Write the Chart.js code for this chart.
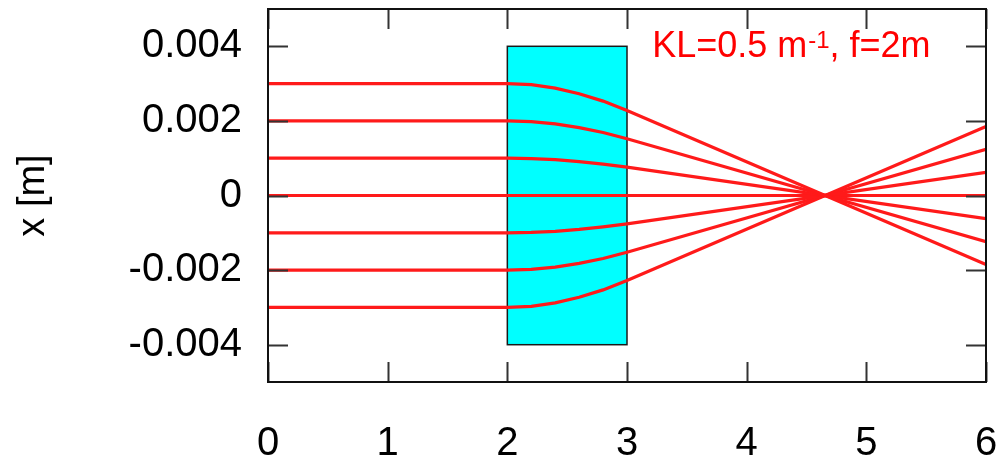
<!DOCTYPE html>
<html>
<head>
<meta charset="utf-8">
<title>Quadrupole focusing</title>
<script src="https://cdn.jsdelivr.net/npm/chart.js@4.4.1/dist/chart.umd.min.js"></script>
<style>
  html, body { margin: 0; padding: 0; background: #ffffff; }
  #wrap { width: 996px; height: 462px; }
</style>
</head>
<body>
<div id="wrap"><canvas id="chart" width="996" height="462"></canvas></div>
<script>
// Positions along the beam line [m]
const rayS = [0, 2, 2.2, 2.4, 2.6, 2.8, 3, 6];

// Transverse offset x [m] of each ray at the positions above
const rayTop3 = [0.003, 0.003, 0.00297, 0.00288, 0.00273, 0.00253, 0.00228, -0.00185];
const rayTop2 = [0.002, 0.002, 0.00198, 0.00192, 0.00182, 0.00169, 0.00152, -0.00124];
const rayTop1 = [0.001, 0.001, 0.00099, 0.00096, 0.00091, 0.00084, 0.00076, -0.00062];
const rayAxis = [0, 0, 0, 0, 0, 0, 0, 0];
const rayBot1 = [-0.001, -0.001, -0.00099, -0.00096, -0.00091, -0.00084, -0.00076, 0.00062];
const rayBot2 = [-0.002, -0.002, -0.00198, -0.00192, -0.00182, -0.00169, -0.00152, 0.00124];
const rayBot3 = [-0.003, -0.003, -0.00297, -0.00288, -0.00273, -0.00253, -0.00228, 0.00185];

// Quadrupole extent
const quadS = [2, 3];
const quadX = [-0.004, 0.004];

// Axis ticks
const xTicks = [0, 1, 2, 3, 4, 5, 6];
const yTicks = [-0.004, -0.002, 0, 0.002, 0.004];
const yTickLabels = ['-0.004', '-0.002', '0', '0.002', '0.004'];

const annotationParts = ['KL=0.5 m', '-1', ', f=2m'];

const FONT = '"Liberation Sans", Arial, Helvetica, sans-serif';

const rays = [rayTop3, rayTop2, rayTop1, rayAxis, rayBot1, rayBot2, rayBot3];

const datasets = rays.map(function(ray) {
  return {
    data: ray.map(function(v, i) { return { x: rayS[i], y: v }; }),
    borderColor: '#ff1a1a',
    borderWidth: 3.2,
    pointRadius: 0,
    tension: 0,
    fill: false
  };
});

// Cyan quadrupole block, drawn under the rays
const quadPlugin = {
  id: 'quad',
  beforeDatasetsDraw: function(chart) {
    const ctx = chart.ctx;
    const xs = chart.scales.x;
    const ys = chart.scales.y;
    const x0 = xs.getPixelForValue(quadS[0]);
    const x1 = xs.getPixelForValue(quadS[1]);
    const y0 = ys.getPixelForValue(quadX[1]);
    const y1 = ys.getPixelForValue(quadX[0]);
    ctx.save();
    ctx.fillStyle = '#00ffff';
    ctx.fillRect(x0, y0, x1 - x0, y1 - y0);
    ctx.strokeStyle = '#1a1a1a';
    ctx.lineWidth = 1.5;
    ctx.strokeRect(x0, y0, x1 - x0, y1 - y0);
    ctx.restore();
  }
};

// Frame with inward ticks on all four sides, plus the red annotation
const framePlugin = {
  id: 'frame',
  afterDraw: function(chart) {
    const ctx = chart.ctx;
    const a = chart.chartArea;
    const xs = chart.scales.x;
    const ys = chart.scales.y;
    const tickLen = 20;
    ctx.save();
    ctx.strokeStyle = '#333333';
    ctx.lineWidth = 2;
    ctx.beginPath();
    xTicks.forEach(function(v) {
      const px = Math.round(xs.getPixelForValue(v)) + 0.5;
      ctx.moveTo(px, a.bottom); ctx.lineTo(px, a.bottom - tickLen);
      ctx.moveTo(px, a.top); ctx.lineTo(px, a.top + tickLen);
    });
    yTicks.forEach(function(v) {
      const py = Math.round(ys.getPixelForValue(v)) + 0.5;
      ctx.moveTo(a.left, py); ctx.lineTo(a.left + tickLen, py);
      ctx.moveTo(a.right, py); ctx.lineTo(a.right - tickLen, py);
    });
    ctx.stroke();

    ctx.strokeStyle = '#111111';
    ctx.lineWidth = 2;
    ctx.strokeRect(a.left, a.top, a.right - a.left, a.bottom - a.top);

    // annotation text
    let tx = xs.getPixelForValue(3.21);
    const ty = ys.getPixelForValue(0.00372);
    ctx.fillStyle = '#ff0000';
    ctx.textBaseline = 'alphabetic';
    ctx.textAlign = 'left';
    ctx.font = '36px ' + FONT;
    ctx.fillText(annotationParts[0], tx, ty);
    tx += ctx.measureText(annotationParts[0]).width + 1;
    ctx.font = '24px ' + FONT;
    ctx.fillText(annotationParts[1], tx, ty - 9);
    tx += ctx.measureText(annotationParts[1]).width;
    ctx.font = '36px ' + FONT;
    ctx.fillText(annotationParts[2], tx, ty);
    ctx.restore();
  }
};

new Chart(document.getElementById('chart'), {
  type: 'line',
  data: { datasets: datasets },
  options: {
    responsive: false,
    animation: false,
    layout: { padding: { top: 9, right: 10, left: 0, bottom: 0 } },
    plugins: {
      legend: { display: false },
      tooltip: { enabled: false }
    },
    scales: {
      x: {
        type: 'linear',
        min: 0,
        max: 6,
        grid: { display: false, drawTicks: false },
        border: { display: false },
        ticks: {
          padding: 38,
          color: '#000000',
          font: { family: FONT, size: 40 },
          maxRotation: 0
        },
        afterBuildTicks: function(scale) {
          scale.ticks = xTicks.map(function(v) { return { value: v }; });
        },
        afterFit: function(scale) {
          scale.height = 80;
          scale.paddingLeft = 0;
          scale.paddingRight = 0;
        }
      },
      y: {
        type: 'linear',
        min: -0.005,
        max: 0.005,
        grid: { display: false, drawTicks: false },
        border: { display: false },
        title: {
          display: true,
          text: 'x [m]',
          color: '#000000',
          font: { family: FONT, size: 38 },
          padding: { top: 11, bottom: 0 }
        },
        ticks: {
          padding: 26,
          color: '#000000',
          font: { family: FONT, size: 40 },
          callback: function(value) {
            const i = yTicks.indexOf(value);
            return i >= 0 ? yTickLabels[i] : '';
          }
        },
        afterBuildTicks: function(scale) {
          scale.ticks = yTicks.map(function(v) { return { value: v }; });
        },
        afterFit: function(scale) {
          scale.width = 268;
          scale.paddingTop = 0;
          scale.paddingBottom = 0;
        }
      }
    }
  },
  plugins: [quadPlugin, framePlugin]
});
</script>
</body>
</html>
